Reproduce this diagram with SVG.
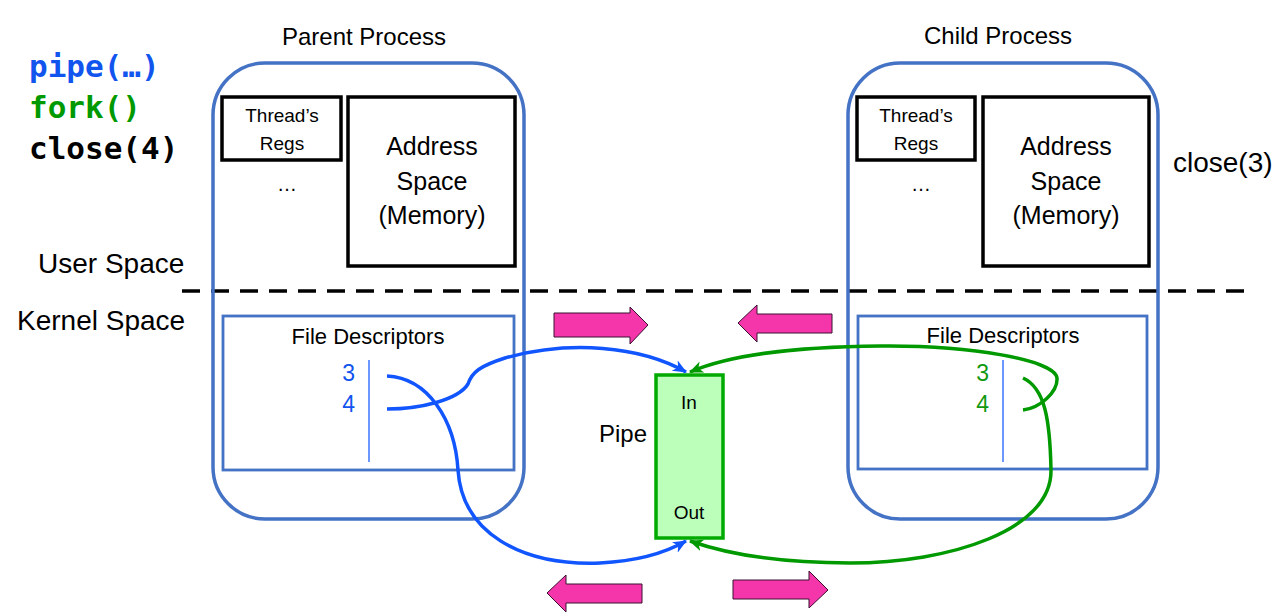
<svg xmlns="http://www.w3.org/2000/svg" width="1276" height="614" viewBox="0 0 1276 614">
<style>
.t{font-family:"Liberation Sans",Arial,sans-serif;fill:#000}
.m{font-family:"DejaVu Sans Mono","Liberation Mono",monospace;font-weight:bold;font-size:31px}
.proc{fill:none;stroke:#4472C4;stroke-width:3.5}
.box{fill:#fff;stroke:#000;stroke-width:3.5}
.fd{fill:none;stroke:#4472C4;stroke-width:2.8}
.vl{stroke:#5B8CFF;stroke-width:1.8}
.pink{fill:#F535AA;stroke:#3a1030;stroke-width:1}
.bl{fill:none;stroke:#1155FF;stroke-width:3.5}
.gr{fill:none;stroke:#009900;stroke-width:3.5}
</style>
<defs>
<marker id="ab" markerUnits="userSpaceOnUse" markerWidth="16" markerHeight="14" refX="13" refY="6" orient="auto">
<path d="M0,0 L14,6 L0,12 L4,6 z" fill="#1155FF"/>
</marker>
<marker id="ag" markerUnits="userSpaceOnUse" markerWidth="16" markerHeight="14" refX="13" refY="6" orient="auto">
<path d="M0,0 L14,6 L0,12 L4,6 z" fill="#009900"/>
</marker>
</defs>
<rect width="1276" height="614" fill="#fff"/>

<g id="code">
<text class="m" x="29" y="77" fill="#1155EE">pipe(…)</text>
<text class="m" x="29" y="118" fill="#009900">fork()</text>
<text class="m" x="29" y="159" fill="#000">close(4)</text>
</g>
<g id="labels">
<text class="t" x="38" y="273" font-size="28">User Space</text>
<text class="t" x="17" y="330" font-size="28">Kernel Space</text>
<text class="t" x="1173" y="172" font-size="28">close(3)</text>
<line x1="182" y1="291" x2="1252" y2="291" stroke="#000" stroke-width="3.5" stroke-dasharray="18 11"/>
</g>

<g id="parent">
<text class="t" x="364" y="45" font-size="24" text-anchor="middle">Parent Process</text>
<rect class="proc" x="213" y="63" width="311" height="456" rx="52"/>
<rect class="box" x="222" y="97" width="119" height="63"/>
<text class="t" x="282" y="122" font-size="19" text-anchor="middle">Thread’s</text>
<text class="t" x="282" y="150" font-size="19" text-anchor="middle">Regs</text>
<text class="t" x="287" y="191" font-size="20" text-anchor="middle">…</text>
<rect class="box" x="348" y="97" width="167" height="169"/>
<text class="t" x="432" y="155" font-size="25" text-anchor="middle">Address</text>
<text class="t" x="432" y="190" font-size="25" text-anchor="middle">Space</text>
<text class="t" x="432" y="224" font-size="25" text-anchor="middle">(Memory)</text>
<g id="parent-fd">
<rect class="fd" x="223" y="316" width="291" height="154"/>
<text class="t" x="368" y="344" font-size="22" text-anchor="middle">File Descriptors</text>
<text class="t" x="355" y="381" font-size="23" text-anchor="end" style="fill:#1155EE">3</text>
<text class="t" x="355" y="412" font-size="23" text-anchor="end" style="fill:#1155EE">4</text>
<line class="vl" x1="369" y1="360" x2="369" y2="462"/>
</g>
</g>

<g id="child">
<text class="t" x="998" y="44" font-size="24" text-anchor="middle">Child Process</text>
<rect class="proc" x="848" y="63" width="310" height="456" rx="52"/>
<rect class="box" x="857" y="97" width="118" height="63"/>
<text class="t" x="916" y="122" font-size="19" text-anchor="middle">Thread’s</text>
<text class="t" x="916" y="150" font-size="19" text-anchor="middle">Regs</text>
<text class="t" x="921" y="191" font-size="20" text-anchor="middle">…</text>
<rect class="box" x="983" y="97" width="166" height="169"/>
<text class="t" x="1066" y="155" font-size="25" text-anchor="middle">Address</text>
<text class="t" x="1066" y="190" font-size="25" text-anchor="middle">Space</text>
<text class="t" x="1066" y="224" font-size="25" text-anchor="middle">(Memory)</text>
<g id="child-fd">
<rect class="fd" x="858" y="316" width="289" height="153"/>
<text class="t" x="1003" y="343" font-size="22" text-anchor="middle">File Descriptors</text>
<text class="t" x="989" y="381" font-size="23" text-anchor="end" style="fill:#119911">3</text>
<text class="t" x="989" y="412" font-size="23" text-anchor="end" style="fill:#119911">4</text>
<line class="vl" x1="1003" y1="360" x2="1003" y2="462"/>
</g>
</g>

<g id="pipe">
<text class="t" x="623" y="442" font-size="24" text-anchor="middle">Pipe</text>
<rect x="656" y="375" width="67" height="163" fill="#BBFFBB" stroke="#00AA00" stroke-width="3.5"/>
<text class="t" x="689" y="409" font-size="19" text-anchor="middle">In</text>
<text class="t" x="689" y="519" font-size="19" text-anchor="middle">Out</text>
</g>

<g id="flow-arrows">
<path class="pink" d="M554,313 H630 V307 L648,325 L630,344 V337 H554 Z"/>
<path class="pink" d="M832,314 H757 V305 L738,323 L757,342 V333 H832 Z"/>
<path class="pink" d="M642,584 H566 V575 L547,593 L566,612 V603 H642 Z"/>
<path class="pink" d="M733,580 H809 V571 L828,590 L809,608 V599 H733 Z"/>
</g>

<g id="connectors">
<path class="bl" marker-end="url(#ab)" d="M387,376 C428,378 455,420 458,470 C462,532 520,566 600,563 C640,561 665,553 686,541"/>
<path class="bl" marker-end="url(#ab)" d="M387,409 C420,409 458,400 468,384 C472,372 480,366 505,358 C570,340 640,346 686,372"/>
<path class="gr" marker-end="url(#ag)" d="M1023,378 C1045,388 1050,420 1051,470 C1052,530 950,563 850,563 C780,563 730,555 690,541"/>
<path class="gr" marker-end="url(#ag)" d="M1023,410 C1040,408 1058,392 1057,378 C1055,360 970,345 880,346 C790,347 730,355 690,372"/>
</g>
</svg>
